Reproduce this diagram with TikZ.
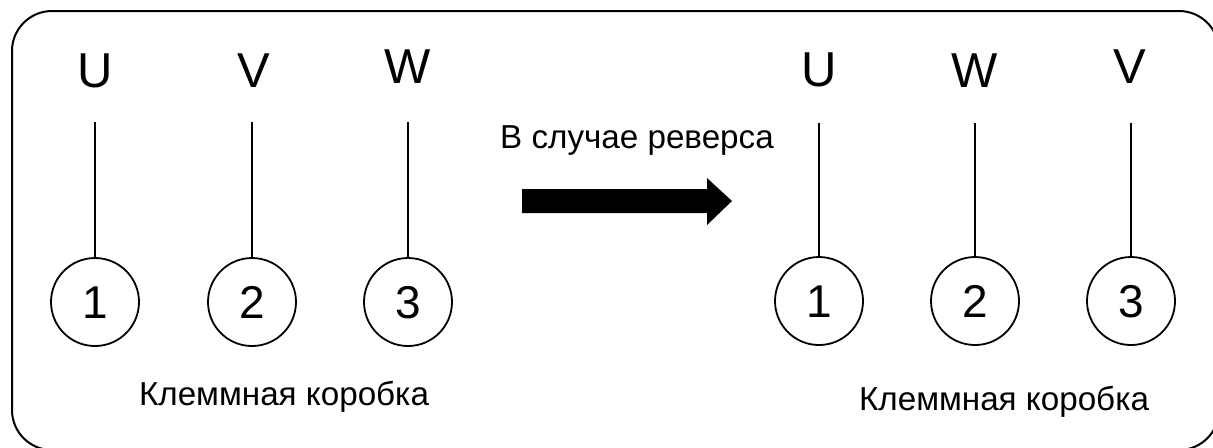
\documentclass[tikz,border=0pt]{standalone}
\usepackage{fontspec}
\setmainfont{Liberation Sans}
\usepackage{tikz}

\begin{document}
\begin{tikzpicture}[x=0.5pt, y=-0.5pt,
        phase/.style={inner sep=0pt, anchor=base, font=\fontsize{24.5}{24.5}\selectfont},
        clamp/.style={shape=circle, draw=black, line width=0.9pt, minimum size=44pt, inner sep=0pt,
            text height=16.5pt, text depth=0pt, font=\fontsize{23}{23}\selectfont},
        caption/.style={inner sep=0pt, anchor=base, font=\fontsize{16.6}{16.6}\selectfont},
        wire/.style={line width=0.7pt}]
        \useasboundingbox (0, 0) rectangle (1213, 447);
        \clip (0, 0) rectangle (1213, 447);

        \draw[line width=1pt, rounded corners=20pt] (12, 11) rectangle (1219, 450);

        % left side
        \node[phase] (LU) at (95, 87) {U};
        \node[phase] (LV) at (254, 87) {V};
        \node[phase] (LW) at (408, 83) {W};

        \coordinate (LU0) at (95, 122);
        \coordinate (LV0) at (252, 122);
        \coordinate (LW0) at (408, 122);

        \node[clamp] (L1) at (95, 302) {1};
        \node[clamp] (L2) at (252, 302) {2};
        \node[clamp] (L3) at (408, 302) {3};

        \draw[wire] (LU0) -- (L1);
        \draw[wire] (LV0) -- (L2);
        \draw[wire] (LW0) -- (L3);

        \node[caption] (LBox) at (284, 405) {Клеммная коробка};

        % reverse arrow
        \node[caption] (Rev) at (637, 148) {В случае реверса};
        \fill[black] (522, 189) -- (707, 189) -- (707, 178) -- (732, 201)
            -- (707, 225) -- (707, 213) -- (522, 213) -- cycle;

        % right side
        \node[phase] (RU) at (819, 86) {U};
        \node[phase] (RW) at (975, 87) {W};
        \node[phase] (RV) at (1130, 83) {V};

        \coordinate (RU0) at (819, 123);
        \coordinate (RW0) at (975, 123);
        \coordinate (RV0) at (1131, 123);

        \node[clamp] (R1) at (819, 301) {1};
        \node[clamp] (R2) at (975, 301) {2};
        \node[clamp] (R3) at (1131, 301) {3};

        \draw[wire] (RU0) -- (R1);
        \draw[wire] (RW0) -- (R2);
        \draw[wire] (RV0) -- (R3);

        \node[caption] (RBox) at (1004, 410) {Клеммная коробка};
    \end{tikzpicture}
\end{document}
